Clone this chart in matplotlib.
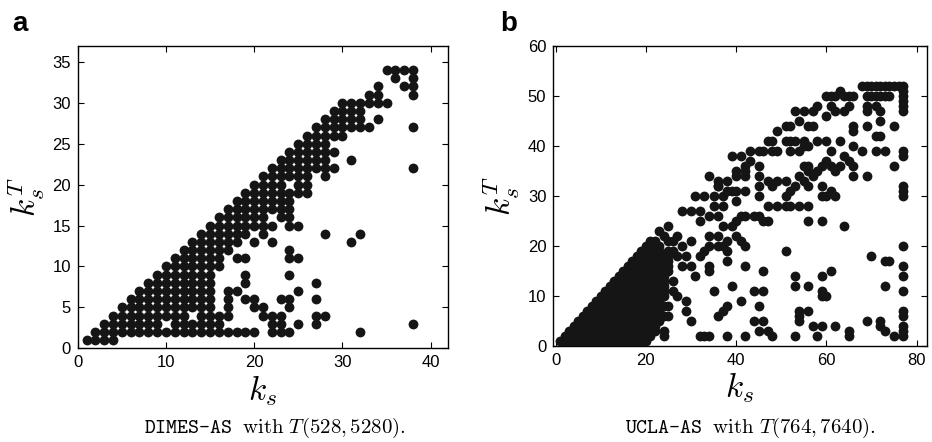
import matplotlib
matplotlib.use('Agg')
import matplotlib.pyplot as plt

plt.rcParams['mathtext.fontset'] = 'cm'
plt.rcParams['font.family'] = ['Liberation Sans', 'DejaVu Sans']

# ---------------- Panel a data: DIMES-AS (rows of kT, runs of ks) ----------------
rows_a = {
    1: [(1, 4)],
    2: [(2, 20), (22, 24), 32],
    3: [(3, 9), (11, 16), (22, 23), 25, 27, 38],
    4: [(4, 12), (14, 17), (21, 23), (27, 28)],
    5: [(5, 15), 17, (20, 21), 24],
    6: [(6, 15), 17, (19, 20), (23, 24), 27],
    7: [(7, 15), (17, 18), 25],
    8: [(8, 15), 19, 27],
    9: [(9, 15), 19, 24],
    10: [(10, 16)],
    11: [(11, 16), (18, 19), (24, 25)],
    12: [(12, 17), 24],
    13: [(13, 18), 20, 22, 31],
    14: [(14, 19), 21, 28, 32],
    15: [(15, 22), (24, 25)],
    16: [(16, 21), (23, 24)],
    17: [(17, 24)],
    18: [(18, 24)],
    19: [(19, 26)],
    20: [(20, 23), (25, 26)],
    21: [(21, 26), 28],
    22: [(22, 29), 38],
    23: [(23, 28), 31],
    24: [(24, 29)],
    25: [(25, 28)],
    26: [(26, 30)],
    27: [(27, 33), 38],
    28: [(28, 32), 34],
    29: [(29, 32)],
    30: [(30, 35)],
    31: [33, 34, 38],
    32: [34, 37, 38],
    33: [36, 38],
    34: [(35, 38)],
}

# ---------------- Panel b data: UCLA-AS ----------------
# solid columns of the dense corner: (ks, lowest kT, highest kT)
cols_b = [(1, 1, 1), (2, 1, 2), (3, 1, 3), (4, 1, 4), (5, 1, 5), (6, 1, 6), (7, 1, 7),
          (8, 1, 8), (9, 1, 9), (10, 1, 10), (11, 1, 11), (12, 1, 12), (13, 1, 13),
          (14, 1, 14), (15, 1, 15), (16, 1, 16), (17, 1, 17), (18, 1, 18), (19, 1, 19),
          (20, 1, 20), (21, 2, 21), (22, 3, 21), (23, 5, 20), (24, 10, 18), (25, 15, 19)]

# scattered points (ks, kT)
pts_b = [
    (23, 23), (25, 24), (26, 21), (24, 22), (25, 21), (27, 22), (28, 27), (30, 27),
    (28, 20), (29, 18), (30, 21), (26, 19), (27, 18),
    (31, 30), (33, 30), (34, 34), (36, 33), (38, 33), (36, 32),
    (39, 38), (41, 38), (43, 39), (45, 39), (42, 36), (43, 37), (45, 36), (40, 35),
    (40, 34), (42, 34), (45, 34), (42, 35),
    (24, 8), (25, 8), (24, 6), (25, 6), (24, 3), (24, 2), (32, 2), (33, 2), (34, 2),
    (38, 2), (42, 2),
    (26, 11), (27, 10), (29, 9), (29, 7), (30, 5), (26, 13),
    (35, 11), (39, 12), (41, 9), (38, 8), (37, 7), (36, 6),
    (44, 11), (46, 11), (45, 8), (44, 5), (46, 5), (45, 3),
    (42, 16), (46, 15),
    (31, 14), (34, 15), (34, 16), (30, 16), (28, 16), (38, 17), (38, 19), (37, 20),
    (32, 18), (33, 19), (34, 20), (36, 20),
    (34, 22), (36, 22), (38, 21), (40, 22), (41, 21), (42, 20),
    (36, 26), (37, 24), (39, 24), (40, 25), (41, 26), (42, 26), (44, 26), (45, 26), (46, 25),
    (32, 25), (32, 27), (34, 26), (35, 28), (37, 28),
    (35, 30), (36, 32), (37, 30), (38, 31), (39, 31), (40, 31), (42, 31), (40, 29), (45, 30),
    (47, 25), (47, 28), (49, 28), (51, 28), (52, 28), (54, 28), (56, 28), (56, 25),
    (59, 25), (64, 24), (51, 19),
    (48, 32), (49, 33), (51, 33), (51, 30), (52, 31), (53, 32), (54, 34), (55, 33),
    (56, 35), (56, 32), (57, 34), (58, 35), (59, 36), (60, 37), (61, 36), (62, 35),
    (63, 36), (59, 32), (61, 31), (62, 30), (59, 30), (60, 30), (56, 36), (55, 36),
    (65, 37), (66, 36), (66, 34), (69, 34), (75, 36), (77, 32), (77, 31), (77, 30),
    (45, 32), (47, 33), (47, 41),
    (46, 39), (48, 39), (49, 39), (52, 39), (54, 39), (55, 40), (56, 40), (61, 39),
    (64, 38), (66, 40), (68, 39), (71, 39), (73, 39), (77, 39), (77, 38),
    (48, 41), (51, 41), (52, 41), (53, 41), (55, 41), (58, 41), (60, 41), (63, 41),
    (72, 42), (71, 42), (66, 43), (66, 44), (69, 44), (75, 44), (72, 45),
    (54, 45), (52, 44), (49, 43), (51, 44), (56, 44), (57, 44),
    (53, 47), (55, 47), (57, 47), (58, 48), (60, 46), (61, 48), (62, 47), (64, 47),
    (65, 48), (69, 48), (69, 47), (71, 48), (72, 47), (77, 47), (77, 48), (77, 49),
    (77, 50), (77, 51),
    (60, 50), (61, 50), (62, 50), (63, 51), (64, 50), (65, 50), (66, 50),
    (69, 50), (70, 50), (71, 50), (72, 50), (73, 50), (74, 50),
    (68, 52), (69, 52), (70, 52), (71, 52), (72, 52), (73, 52), (74, 52), (75, 52),
    (76, 52), (77, 52),
    (70, 18), (73, 17), (74, 17), (77, 20), (77, 16), (77, 14), (77, 11), (73, 12),
    (53, 14), (53, 12), (56, 12), (59, 14), (61, 15), (59, 10), (60, 10), (59, 11),
    (48, 2), (47, 3), (53, 2), (54, 5), (54, 6), (54, 7), (56, 7), (57, 4), (58, 2),
    (59, 4), (62, 4), (65, 3), (65, 2), (69, 5), (72, 5), (72, 4), (73, 3), (75, 2),
    (77, 7), (77, 6), (77, 4), (77, 3), (77, 2),
]

# ticks / labels
a_xticks = [0, 10, 20, 30, 40]
a_yticks = [0, 5, 10, 15, 20, 25, 30, 35]
b_xticks = [0, 20, 40, 60, 80]
b_yticks = [0, 10, 20, 30, 40, 50, 60]


def expand_rows(rows):
    xs, ys = [], []
    for kt, segs in rows.items():
        for s in segs:
            if isinstance(s, tuple):
                for k in range(s[0], s[1] + 1):
                    xs.append(k); ys.append(kt)
            else:
                xs.append(s); ys.append(kt)
    return xs, ys


def expand_cols(cols):
    xs, ys = [], []
    for ks, lo, hi in cols:
        for kt in range(lo, hi + 1):
            xs.append(ks); ys.append(kt)
    return xs, ys


W, H = 932, 442
fig = plt.figure(figsize=(W / 100, H / 100), dpi=100)
axa = fig.add_axes([77.7 / W, 1 - 348.3 / H, (448.3 - 77.7) / W, (348.3 - 46.3) / H])
axb = fig.add_axes([553.3 / W, 1 - 346.0 / H, (926.5 - 553.3) / W, (346.0 - 46.0) / H])

dot = dict(s=50, c='#151515', linewidths=0, zorder=3)

xa, ya = expand_rows(rows_a)
axa.scatter(xa, ya, **dot)
xb, yb = expand_cols(cols_b)
xb += [p[0] for p in pts_b]
yb += [p[1] for p in pts_b]
axb.scatter(xb, yb, **dot)

axa.set_xlim(0, 42)
axa.set_ylim(0, 36.9)
axa.set_xticks(a_xticks)
axa.set_yticks(a_yticks)
axb.set_xlim(-0.5, 82.2)
axb.set_ylim(-0.1, 60)
axb.set_xticks(b_xticks)
axb.set_yticks(b_yticks)

for ax in (axa, axb):
    ax.tick_params(direction='in', top=True, right=True, length=4, width=0.8,
                   labelsize=12, pad=5)
    for sp in ax.spines.values():
        sp.set_linewidth(1.0)
    ax.set_xlabel(r'$k_s$', fontsize=24, labelpad=2)
    ax.set_ylabel(r'$k_s^T$', fontsize=24, labelpad=4)

fig.text(12 / W, 1 - 24 / H, 'a', fontsize=20, fontweight='bold', va='center', ha='left')
fig.text(500 / W, 1 - 24 / H, 'b', fontsize=20, fontweight='bold', va='center', ha='left')

fig.text(275 / W, 1 - 428 / H, r'DIMES-AS $\mathrm{with}\ T(528, 5280).$',
         family='cmtt10', fontsize=15, ha='center', va='center')
fig.text(750 / W, 1 - 428 / H, r'UCLA-AS $\mathrm{with}\ T(764, 7640).$',
         family='cmtt10', fontsize=15, ha='center', va='center')

fig.savefig('out.png', dpi=100)
